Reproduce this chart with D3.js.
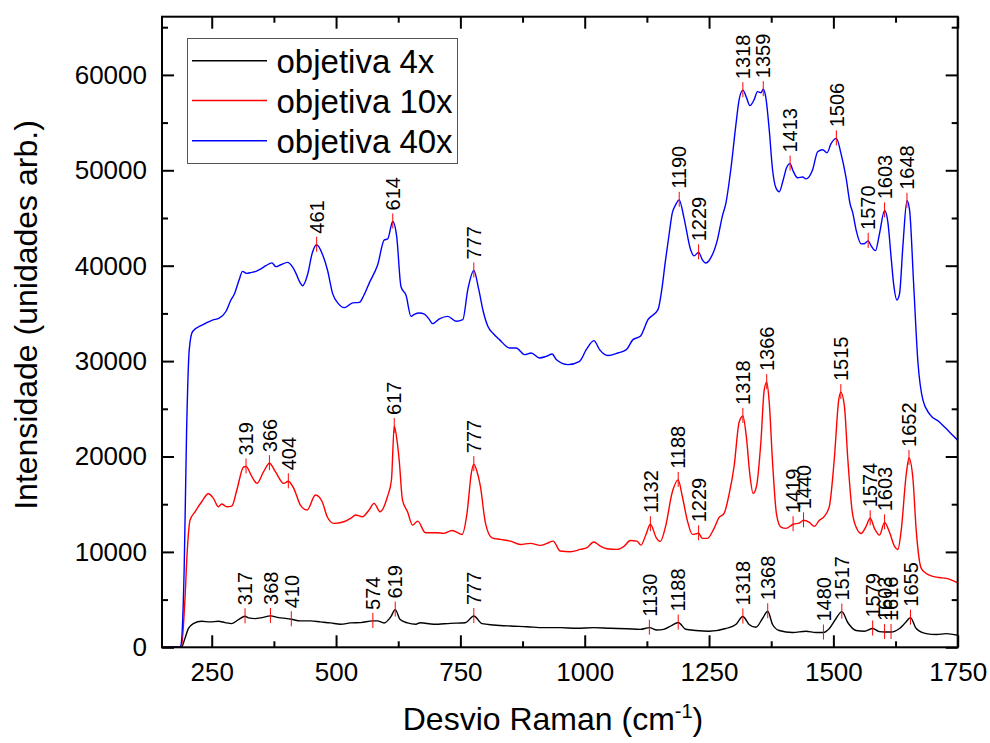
<!DOCTYPE html>
<html>
<head>
<meta charset="utf-8">
<script src="https://cdn.jsdelivr.net/npm/d3@7"></script>
<style>
  html, body { margin: 0; padding: 0; background: #ffffff; }
  svg text { font-family: "Liberation Sans", Arial, Helvetica, sans-serif; }
</style>
</head>
<body>
<svg id="chart" width="990" height="743"></svg>
<script>
// ---------- data ----------
const seriesNames = ["objetiva 4x", "objetiva 10x", "objetiva 40x"];
const seriesColors = ["#000000", "#ff0000", "#0000ff"];

// Raman shift (cm-1) , intensity
const obj4x = [[150,0],[189,0],[196,910],[202.9,1960],[213,2485],[229.8,2730],[246.6,2660],[263.5,2730],[276.9,2590],[290.4,2485],[303.8,2905],[317,3250],[324,3080],[337.5,3010],[351,3115],[368,3290],[384.6,3115],[401.4,3010],[410,2940],[428.3,2765],[448.5,2765],[468.7,2660],[488.9,2555],[509.1,2415],[529.3,2555],[549.5,2590],[574,2765],[583.1,2765],[596.6,2555],[610,3185],[619,3950],[628.9,2905],[643.7,2555],[660.5,2415],[669.6,2580],[696.4,2410],[729.9,2510],[760,2580],[777,3280],[793.6,2480],[817,2340],[850.5,2230],[884,2160],[917.5,2060],[951,2060],[984.5,1990],[1018,2060],[1051.5,1990],[1085,1950],[1111.8,1880],[1130,2060],[1145.3,1810],[1158.7,1880],[1175.5,2300],[1188,2600],[1203,1890],[1223.1,1760],[1250,1680],[1283.6,1970],[1303.8,2390],[1318,3230],[1330.6,2390],[1344.1,2100],[1357.5,3020],[1368,3780],[1377.7,2390],[1391.1,1760],[1418,1550],[1444.9,1680],[1465,1550],[1480,1550],[1491.9,1970],[1505.4,3020],[1517,3740],[1528.9,2600],[1545.7,1760],[1562.5,1680],[1579,1970],[1592.7,1640],[1603,1600],[1616,1600],[1633,1970],[1645.1,2600],[1655,3110],[1666.6,1970],[1686.8,1430],[1707,1340],[1727.1,1430],[1750,1260]];

const obj10x = [[150,0],[189,0],[196,4900],[200.9,10200],[206.3,13300],[216.4,14200],[229.8,15260],[243.3,16100],[253.4,15610],[263.5,14735],[269.9,15015],[280.3,14735],[290.4,14805],[300.5,16485],[313.9,18900],[319,18950],[330.8,17885],[340.9,17185],[354.3,18410],[366,19300],[377.9,18410],[394.7,17185],[404,17400],[414.9,16660],[428.3,14910],[441.8,14385],[458.6,15960],[472.1,15260],[482.2,13685],[495.6,12985],[515.8,13160],[529.3,13510],[539.4,13860],[552.9,13685],[566.3,14385],[576.4,15085],[588.5,14210],[603.3,15785],[611.4,17535],[617,23200],[623,21500],[626.9,19635],[633.6,15435],[643.7,14210],[653.8,12810],[664.2,13230],[679.6,12010],[703.1,12010],[716.5,11940],[733.3,12250],[753.4,11830],[763.4,14100],[772.1,18290],[777,19200],[783,18500],[790.2,16890],[800.3,13050],[813.7,11480],[830.4,11310],[850.5,11130],[870.6,10780],[890.7,10890],[910.8,10680],[924.2,10890],[936.3,11130],[951,10090],[971.1,10020],[991.2,10260],[1004.6,10440],[1018,11030],[1031.4,10610],[1044.8,10330],[1064.9,10260],[1079.6,10610],[1091.7,11200],[1105.1,11130],[1113.1,10710],[1123.2,11830],[1132,12900],[1144,11480],[1152,11100],[1162.6,12680],[1176,16250],[1188,17550],[1196.2,15830],[1206.3,13310],[1216.4,11840],[1229,11950],[1236.6,11420],[1246.6,11420],[1260.1,12470],[1270.2,13610],[1280.2,14030],[1290.3,16040],[1300.4,18980],[1310.5,23600],[1318,24250],[1325.3,21920],[1332,18140],[1338.7,16130],[1345.4,16880],[1354.2,21500],[1360.9,26960],[1366,27800],[1371,25700],[1377.7,19400],[1385.7,13940],[1394.5,12600],[1404.6,12470],[1419,12900],[1431.4,13020],[1440,13310],[1451.6,13100],[1461.7,12680],[1471.8,13310],[1481.8,13730],[1491.9,14780],[1502,19820],[1510.7,25910],[1515,26750],[1522.2,25280],[1528.9,19820],[1537.6,14360],[1545.7,12600],[1555.8,11930],[1565.8,12680],[1574,13520],[1582.6,12470],[1592.7,11760],[1603,13100],[1612.9,12050],[1623,10580],[1629.7,10250],[1636.4,12260],[1646.5,18140],[1652,19850],[1659.9,17720],[1666.6,12260],[1676.7,8270],[1686.8,7730],[1700.2,7430],[1713.7,7310],[1727.1,7220],[1750,6750]];

const obj40x = [[150,0],[185,0],[188,200],[194.7,8500],[199.4,22500],[204.8,31200],[211.5,33100],[231.6,33800],[251.7,34300],[265,34500],[278.5,35200],[288.6,36400],[295.3,37000],[305,38500],[312,39400],[320,39200],[330,39300],[338.9,39400],[350,39700],[359,40000],[371,40300],[379,39900],[389,40100],[402.6,40350],[412,39900],[419.4,39200],[427,38300],[432.8,37900],[442.9,39100],[452,41300],[461,42200],[473,41150],[483,39500],[493,37100],[505,36000],[516.6,35600],[533.4,36100],[546.8,36150],[556,36900],[566.9,38200],[583.7,40100],[597,42700],[603.8,42800],[614,44640],[621.9,43070],[630.6,37800],[640.7,36900],[650.7,34700],[657.4,34900],[667.5,35040],[677.6,34930],[687,34400],[694.4,33930],[707.8,34420],[724.6,34690],[741.4,34170],[754.8,34340],[764.9,37490],[777,39500],[787,37490],[796,35200],[805.2,33650],[816,32900],[828.6,32250],[848.8,31380],[862.2,31380],[879,30680],[892.4,30850],[909.2,30330],[922.6,30500],[934.7,30740],[942.7,30160],[966.2,29630],[989.7,29980],[1003.1,31200],[1018.5,32150],[1029.9,31200],[1046.7,30580],[1066.8,30850],[1083.6,31200],[1097,32250],[1111.8,32600],[1127.2,34340],[1147.3,35390],[1155,37500],[1162,40400],[1170,43400],[1176,45500],[1183,46400],[1190,46900],[1199.6,45020],[1213,41660],[1219.8,41030],[1229,41400],[1236.6,40610],[1243.3,40280],[1253.4,40820],[1266.8,42710],[1276.9,45230],[1283.6,46490],[1293.7,50060],[1303.8,54680],[1310.5,57410],[1318,58400],[1325.3,57620],[1332,56780],[1340.7,57410],[1347.4,58250],[1354.2,58130],[1359,58500],[1364.2,57620],[1371,54260],[1377.7,50060],[1384.4,48170],[1391.1,47750],[1399.2,49010],[1406,50300],[1413,50700],[1418,50060],[1428.1,49220],[1438.2,49300],[1444.9,49100],[1458.3,50060],[1468.4,51950],[1478.5,52160],[1487.2,51830],[1495.3,52790],[1506,53350],[1515.4,51740],[1525.5,49220],[1533.6,46490],[1539,45530],[1545.7,43760],[1555.8,42290],[1562,42300],[1570,42600],[1576,42080],[1584.7,41580],[1592.7,43340],[1603,45800],[1609.5,44600],[1616.2,40820],[1621.6,37880],[1627.7,36410],[1633,37040],[1639.8,42080],[1648,46800],[1653.2,45860],[1661.2,38300],[1670,29900],[1680.1,25910],[1693.5,24440],[1713.7,23600],[1733.8,22550],[1750,21700]];

// peak labels for each series
const peaks4x = [317,368,410,574,619,777,1130,1188,1318,1368,1480,1517,1579,1603,1616,1655];
const peaks10x = [319,366,404,617,777,1132,1188,1229,1318,1366,1419,1440,1515,1574,1603,1652];
const peaks40x = [461,614,777,1190,1229,1318,1359,1413,1506,1570,1603,1648];

const xMajorTicks = [250,500,750,1000,1250,1500,1750];
const xMinorTicks = [375,625,875,1125,1375,1625];
const yMajorTicks = [0,10000,20000,30000,40000,50000,60000];
const yMinorTicks = [5000,15000,25000,35000,45000,55000,65000];

const xTitle = "Desvio Raman (cm";
const xTitleSup = "-1";
const yTitle = "Intensidade (unidades arb.)";

// ---------- layout ----------
const L = 162, R = 957.7, T = 16.7, B = 647.3;
const svg = d3.select("#chart");
const x = d3.scaleLinear().domain([150, 1750]).range([L, R]);
const y = d3.scaleLinear().domain([0, 66100]).range([B, T]);

const allSeries = [obj4x, obj10x, obj40x];
const allPeaks = [peaks4x, peaks10x, peaks40x];

// lines
const line = d3.line().x(d => x(d[0])).y(d => y(d[1])).curve(d3.curveMonotoneX);
const plot = svg.append("g");
plot.append("defs").append("clipPath").attr("id", "clip")
  .append("rect").attr("x", L).attr("y", T).attr("width", R - L).attr("height", B - T);
allSeries.forEach((s, i) => {
  plot.append("path").datum(s)
    .attr("clip-path", "url(#clip)")
    .attr("fill", "none")
    .attr("stroke", seriesColors[i])
    .attr("stroke-width", 1.4)
    .attr("stroke-linejoin", "round")
    .attr("d", line);
});

// peak annotations
function valueAt(series, px) {
  for (let k = 0; k < series.length - 1; k++) {
    const a = series[k], b = series[k + 1];
    if (px >= a[0] && px <= b[0]) {
      const t = (px - a[0]) / (b[0] - a[0]);
      return a[1] + t * (b[1] - a[1]);
    }
  }
  return series[series.length - 1][1];
}
const ann = svg.append("g");
allPeaks.forEach((pk, i) => {
  pk.forEach(p => {
    const v = valueAt(allSeries[i], p);
    const px = x(p), py = y(v);
    ann.append("line")
      .attr("x1", px).attr("x2", px)
      .attr("y1", py - 8).attr("y2", py + 7)
      .attr("stroke", "#ff0000").attr("stroke-width", 1);
    ann.append("text")
      .attr("transform", `translate(${px},${py - 11}) rotate(-90)`)
      .attr("text-anchor", "start")
      .attr("dy", "0.36em")
      .attr("font-size", 20)
      .attr("fill", "#000")
      .text(p);
  });
});

// axes
function styleAxis(g) {
  g.select(".domain").remove();
  g.selectAll(".tick line").attr("stroke", "#000").attr("stroke-width", 2);
  g.selectAll(".tick text").attr("font-size", 26).attr("fill", "#000")
    .attr("font-family", "'Liberation Sans', Arial, sans-serif");
}
// bottom
svg.append("g").attr("transform", `translate(0,${B})`)
  .call(d3.axisBottom(x).tickValues(xMajorTicks).tickSize(-12).tickPadding(15).tickFormat(d3.format("d")))
  .call(styleAxis);
svg.append("g").attr("transform", `translate(0,${B})`)
  .call(d3.axisBottom(x).tickValues(xMinorTicks).tickSize(-6).tickFormat(""))
  .call(styleAxis);
// top
svg.append("g").attr("transform", `translate(0,${T})`)
  .call(d3.axisTop(x).tickValues(xMajorTicks).tickSize(-12).tickFormat(""))
  .call(styleAxis);
svg.append("g").attr("transform", `translate(0,${T})`)
  .call(d3.axisTop(x).tickValues(xMinorTicks).tickSize(-6).tickFormat(""))
  .call(styleAxis);
// left
svg.append("g").attr("transform", `translate(${L},0)`)
  .call(d3.axisLeft(y).tickValues(yMajorTicks).tickSize(-12).tickPadding(15).tickFormat(d3.format("d")))
  .call(styleAxis);
svg.append("g").attr("transform", `translate(${L},0)`)
  .call(d3.axisLeft(y).tickValues(yMinorTicks).tickSize(-6).tickFormat(""))
  .call(styleAxis);
// right
svg.append("g").attr("transform", `translate(${R},0)`)
  .call(d3.axisRight(y).tickValues(yMajorTicks).tickSize(-12).tickFormat(""))
  .call(styleAxis);
svg.append("g").attr("transform", `translate(${R},0)`)
  .call(d3.axisRight(y).tickValues(yMinorTicks).tickSize(-6).tickFormat(""))
  .call(styleAxis);

// frame
svg.append("rect").attr("x", L).attr("y", T).attr("width", R - L).attr("height", B - T)
  .attr("fill", "none").attr("stroke", "#000").attr("stroke-width", 2);

// axis titles
const xt = svg.append("text")
  .attr("x", 553).attr("y", 730)
  .attr("text-anchor", "middle").attr("font-size", 32).attr("fill", "#000");
xt.append("tspan").text(xTitle);
xt.append("tspan").attr("dy", -12).attr("font-size", 20).text(xTitleSup);
xt.append("tspan").attr("dy", 12).text(")");

svg.append("text")
  .attr("transform", `translate(37,${(T + B) / 2 - 17}) rotate(-90)`)
  .attr("text-anchor", "middle").attr("font-size", 32).attr("fill", "#000")
  .text(yTitle);

// legend
const lg = svg.append("g");
lg.append("rect").attr("x", 187.5).attr("y", 38.5).attr("width", 270).attr("height", 125)
  .attr("fill", "#fff").attr("stroke", "#555").attr("stroke-width", 1);
const legendRows = [60.7, 100.5, 140.7];
seriesNames.forEach((n, i) => {
  lg.append("line").attr("x1", 192).attr("x2", 267)
    .attr("y1", legendRows[i]).attr("y2", legendRows[i])
    .attr("stroke", seriesColors[i]).attr("stroke-width", 1.5);
  lg.append("text").attr("x", 276.5).attr("y", legendRows[i] + 12)
    .attr("font-size", 33).attr("fill", "#000").text(n);
});
</script>
</body>
</html>
